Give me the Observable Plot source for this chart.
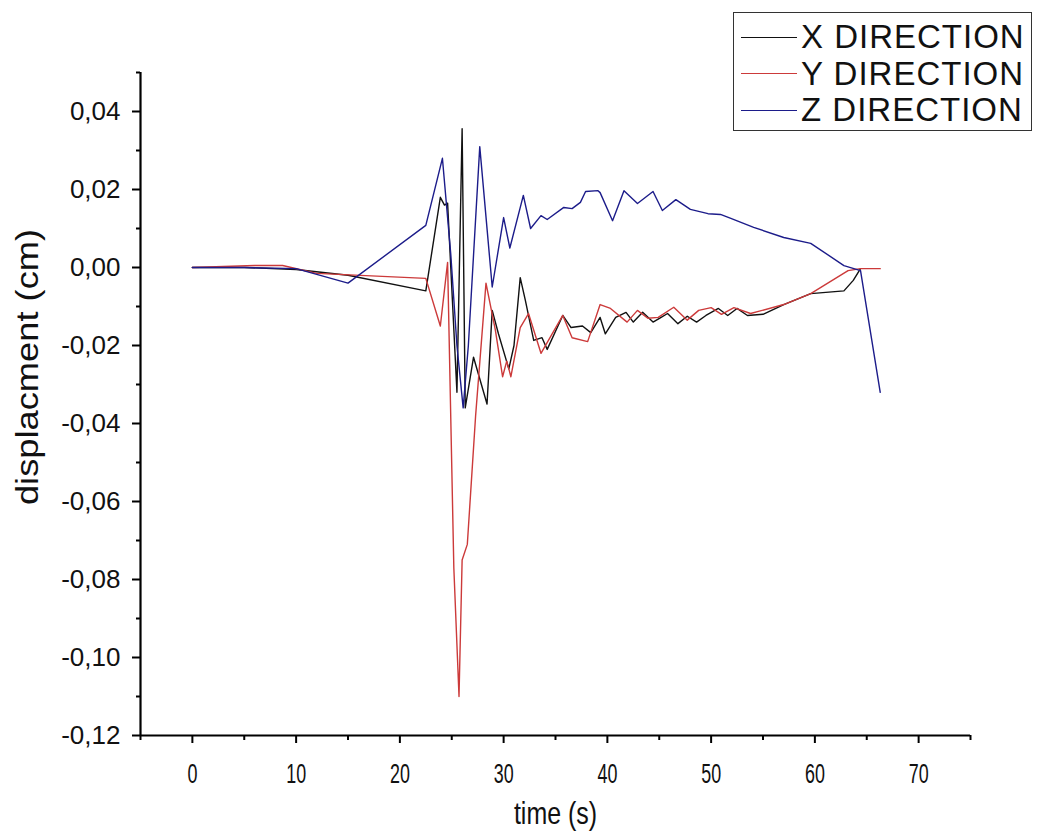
<!DOCTYPE html>
<html><head><meta charset="utf-8">
<script src="https://cdn.jsdelivr.net/npm/d3@7"></script>
<script src="https://cdn.jsdelivr.net/npm/@observablehq/plot@0.6"></script>
<style>
body{margin:0;background:#fff;}
#wrap{position:relative;width:1037px;height:834px;font-family:"Liberation Sans",Arial,sans-serif;}
#legend{position:absolute;left:733px;top:12px;width:299px;height:119px;border:1.5px solid #333;box-sizing:border-box;background:#fff;}
.row{position:absolute;left:0;height:36px;display:flex;align-items:center;font-size:33px;letter-spacing:1px;color:#111;white-space:nowrap;}
.sw{display:inline-block;width:56px;height:0;border-top:1.5px solid #000;margin:0 4px 0 7px;}
</style></head>
<body><div id="wrap"><div id="legend"></div></div>
<script>
// ---- data ----
const seriesNames = ["X DIRECTION", "Y DIRECTION", "Z DIRECTION"];
const seriesColors = ["#111111", "#cc3a3a", "#1c1c8a"];

const xTime = [0,5,10,15,22.5,23.9,24.3,24.6,25.5,26.0,26.3,27.1,28.4,28.9,29.5,30.5,31.0,31.6,32.1,32.9,33.7,34.2,35.7,36.5,37.6,38.4,39.3,39.8,40.8,41.8,42.5,43.4,44.4,45.1,45.8,46.8,47.7,48.6,49.5,50.7,51.6,52.5,53.5,55,57,59.6,62.8,63.7,64.4];
const xDisp = [0,0,-0.0005,-0.002,-0.006,0.018,0.016,0.0165,-0.032,0.0356,-0.036,-0.023,-0.035,-0.011,-0.017,-0.026,-0.02,-0.0026,-0.0085,-0.0187,-0.018,-0.021,-0.0123,-0.0154,-0.015,-0.0167,-0.0128,-0.017,-0.0128,-0.0115,-0.014,-0.0115,-0.014,-0.0129,-0.0118,-0.0144,-0.0125,-0.014,-0.0123,-0.0105,-0.0123,-0.0105,-0.0123,-0.012,-0.0095,-0.0067,-0.006,-0.0033,-0.0003];

const yTime = [0,6,8.7,12,22.5,23.9,24.6,25.2,25.7,26.0,26.5,27.3,28.3,29.2,29.9,30.3,30.7,31.6,32.4,33.6,35.7,36.6,38.1,39.3,40.3,41.9,42.9,43.9,44.9,46.4,47.7,48.8,50,51,52.2,53.8,57,59.6,63.2,64.4,66.3];
const yDisp = [0,0.0005,0.0005,-0.0015,-0.0028,-0.015,0.0013,-0.077,-0.110,-0.075,-0.071,-0.038,-0.004,-0.016,-0.028,-0.024,-0.028,-0.0154,-0.0118,-0.022,-0.0123,-0.018,-0.019,-0.0095,-0.0105,-0.014,-0.011,-0.013,-0.0128,-0.0102,-0.0135,-0.011,-0.0103,-0.012,-0.0103,-0.0118,-0.0095,-0.0067,-0.0008,-0.0003,-0.0003];

const zTime = [0,5,10,15,22.5,24.1,24.9,25.5,26.1,26.6,27.7,28.9,30,30.6,31.9,32.6,33.6,34.2,35.8,36.6,37.4,37.9,39.1,39.3,40.5,41.6,42.9,44.4,45.3,46.6,48,49.7,50.9,51.9,54.1,57,59.6,62.8,64.4,66.3];
const zDisp = [0,0,-0.0003,-0.004,0.0108,0.028,0.0036,-0.02,-0.036,-0.02,0.031,-0.005,0.0128,0.005,0.0185,0.010,0.0133,0.0123,0.0154,0.0151,0.0167,0.0195,0.0197,0.0192,0.012,0.0197,0.0164,0.0195,0.0146,0.0174,0.0149,0.0138,0.0136,0.0126,0.0103,0.0077,0.0062,0.0005,-0.0008,-0.032];

const xTicks = [0,10,20,30,40,50,60,70];
const xMinorTicks = [-5,5,15,25,35,45,55,65,75];
const yTicks = [-0.12,-0.10,-0.08,-0.06,-0.04,-0.02,0,0.02,0.04];
const yMinorTicks = [-0.11,-0.09,-0.07,-0.05,-0.03,-0.01,0.01,0.03,0.05];
const xLabel = "time (s)";
const yLabel = "displacment (cm)";

// ---- build table ----
const rows = [];
[[xTime,xDisp],[yTime,yDisp],[zTime,zDisp]].forEach(([ts,vs],i)=>{
  ts.forEach((t,j)=>rows.push({t, v: vs[j], series: seriesNames[i]}));
});

const fmtY = d => { const r = Math.round(d*100)/100; return (r < 0 ? "-" : "") + Math.abs(r).toFixed(2).replace(".", ","); };

const chart = Plot.plot({
  width: 1037, height: 834,
  marginLeft: 140, marginRight: 67, marginTop: 72, marginBottom: 99,
  style: {fontFamily: "'Liberation Sans', Arial, sans-serif", background: "#fff", color: "#111"},
  x: {domain: [-5, 75]},
  y: {domain: [-0.12, 0.05]},
  color: {domain: seriesNames, range: seriesColors},
  marks: [
    Plot.axisX(xTicks, {tickSize: 8, tickPadding: 20, strokeWidth: 2, fontSize: 28, tickFormat: d => String(d), label: null}),
    Plot.axisX(xMinorTicks, {tickSize: 5, strokeWidth: 2, tickFormat: () => "", label: null}),
    Plot.axisY(yTicks, {tickSize: 8, tickPadding: 12, strokeWidth: 2, fontSize: 25, tickFormat: fmtY, label: null}),
    Plot.axisY(yMinorTicks, {tickSize: 4, strokeWidth: 2, tickFormat: () => "", label: null}),
    Plot.ruleY([-0.12], {strokeWidth: 2.2, stroke: "#000"}),
    Plot.ruleX([-5], {strokeWidth: 2.2, stroke: "#000"}),
    Plot.line(rows, {x: "t", y: "v", z: "series", stroke: "series", strokeWidth: 1.4}),
    Plot.text([xLabel], {text: d => d, frameAnchor: "bottom", dy: 88, fontSize: 32, fill: "#111"}),
    Plot.text([yLabel], {text: d => d, frameAnchor: "left", textAnchor: "middle", dx: -112, dy: -37, rotate: -90, fontSize: 31, fill: "#111"})
  ]
});
document.getElementById("wrap").prepend(chart);

// thicker, black tick marks
chart.querySelectorAll('g[aria-label$="tick"]').forEach(g => { g.setAttribute("stroke-width", "2"); g.setAttribute("stroke", "#000"); });
// reproduce the reference's narrow-looking x texts and stretched y label
const stretchText = (t, f) => {
  const w = t.getComputedTextLength();
  if (w > 0) { t.setAttribute("textLength", (w * f).toFixed(1)); t.setAttribute("lengthAdjust", "spacingAndGlyphs"); }
};
chart.querySelectorAll("text").forEach(t => {
  const s = t.textContent;
  const g = t.closest("g[aria-label]");
  const lab = g ? g.getAttribute("aria-label") : "";
  if (s === xLabel) stretchText(t, 0.78);
  else if (s === yLabel) stretchText(t, 1.17);
  else if (s && lab.indexOf("x-axis") >= 0) stretchText(t, 0.64);
  else if (s && lab.indexOf("y-axis") >= 0) stretchText(t, 1.04);
});

// legend
const lg = document.getElementById("legend");
seriesNames.forEach((n,i)=>{
  const r = document.createElement("div");
  r.className = "row";
  r.style.top = (6 + i*36.5) + "px";
  const s = document.createElement("span"); s.className = "sw"; s.style.borderTopColor = seriesColors[i];
  const t = document.createElement("span"); t.textContent = n;
  r.appendChild(s); r.appendChild(t); lg.appendChild(r);
});
</script>
</body></html>
